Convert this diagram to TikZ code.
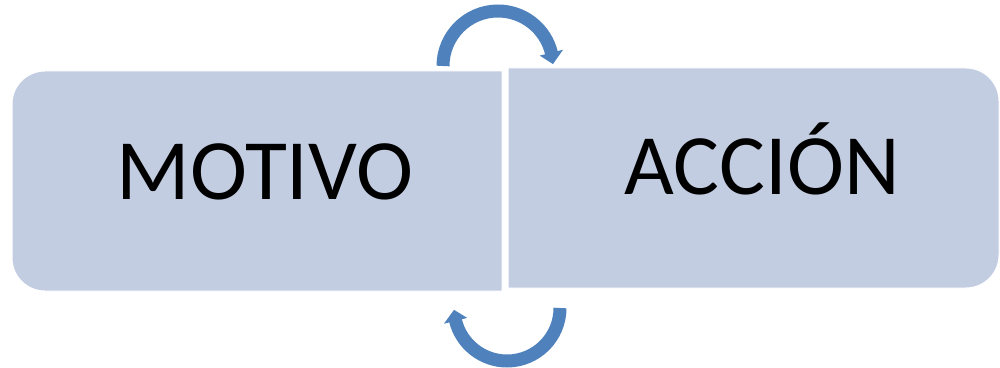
\documentclass[tikz,border=0pt]{standalone}
\usepackage{fontspec}
\setmainfont{Carlito}
\definecolor{boxfill}{RGB}{195,205,226}
\definecolor{arrowblue}{RGB}{79,129,189}
\tikzset{
  stepbox/.style={fill=boxfill, draw=white, line width=1pt},
  label/.style={font=\fontsize{86}{100}\selectfont, text=black, anchor=base, inner sep=0pt},
  cyclearc/.style={draw=arrowblue, line width=13pt},
  cyclehead/.style={fill=arrowblue, draw=none}
}
\begin{document}
\begin{tikzpicture}[x=1pt,y=1pt]
\useasboundingbox (0,0) rectangle (1000,367);
% boxes: outer corners rounded, inner corners square
\path[stepbox] (502,76) -- (502,296) [rounded corners=33pt] -- (12,296) -- (12,76) [sharp corners] -- cycle;
\path[stepbox] (508,299) -- (508,79) [rounded corners=33pt] -- (999,79) -- (999,299) [sharp corners] -- cycle;
\node[label] (motivo) at (265,167) {MOTIVO};
\node[label] (accion) at (762,172) {ACCIÓN};
% top cycle arrow
\coordinate (ctop) at (498,301);
\draw[cyclearc] ([shift={(180:55)}]ctop) arc[start angle=180, end angle=13, radius=55];
\fill[cyclehead] ([shift={(14:43)}]ctop) -- ([shift={(14:67)}]ctop) -- ([shift={(2:55)}]ctop) -- cycle;
% bottom cycle arrow
\coordinate (cbot) at (507,59);
\draw[cyclearc] ([shift={(0:53)}]cbot) arc[start angle=0, end angle=-167, radius=53];
\fill[cyclehead] ([shift={(-166:41)}]cbot) -- ([shift={(-166:65)}]cbot) -- ([shift={(-178:53)}]cbot) -- cycle;
\end{tikzpicture}
\end{document}
